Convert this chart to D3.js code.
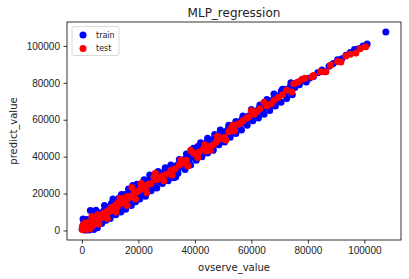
<!DOCTYPE html>
<html>
<head>
<meta charset="utf-8">
<script src="https://cdn.jsdelivr.net/npm/d3@7"></script>
<style>
  body { margin: 0; background: #fff; }
  svg { font-family: "DejaVu Sans", sans-serif; }
  .tick text { font-size: 10px; fill: #222; }
</style>
</head>
<body>
<svg id="chart" width="409" height="279"></svg>
<script>
var trainPoints = [
  [100,800],[300,2500],[400,6200],[600,1200],[700,4000],[900,300],[1000,2000],[1200,5200],[1400,800],[1500,3000],
  [1700,6000],[1900,1500],[2100,4200],[2300,700],[2500,2500],[2700,5500],[3000,10800],[3100,3500],[3300,1800],[3600,6500],
  [3800,4000],[4000,2500],[4300,7500],[4500,5000],[4800,3500],[5000,8500],[5300,6000],[5600,4500],[5900,9000],[6200,7000],
  [6500,5500],[6800,9500],[7100,8000],[7400,6500],[7700,10500],[8000,9000],[8300,7000],[8600,11500],[8900,10000],[9200,8500],
  [9500,12500],[9800,11000],[10100,9500],[10400,14500],[10700,12000],[11000,15500],[11300,10500],[11600,13500],[11900,16000],[12200,12500],
  [12500,11000],[12800,15000],[13100,17500],[13400,14000],[13700,12500],[14000,16500],[14300,18000],[14600,14500],[14900,17000],[15200,19500],
  [15500,16000],[15800,14500],[16100,18500],[16400,20000],[16700,17000],[17000,15500],[17300,19500],[17600,21500],[18000,24300],[18400,18000],
  [18800,20500],[19200,22500],[19600,19000],[20000,21500],[20600,23500],[21200,20000],[21800,22500],[22400,25000],[23000,22000],[23600,24000],
  [24200,27500],[24800,28500],[25400,24000],[26000,27000],[26600,29500],[27200,26500],[27800,30500],[28400,28500],[29000,31500],[29600,29000],
  [30200,32000],[30800,31500],[31400,30000],[32000,34500],[32600,33000],[33200,29000],[33800,35500],[34400,34000],[35000,36500],[35600,35000],
  [36200,38500],[36800,37500],[37400,40500],[38000,38000],[38600,41500],[39200,40000],[39800,43500],[40400,42000],[41000,45500],[41600,43000],
  [42200,46000],[42800,44500],[43400,42500],[44000,47500],[44600,45500],[45200,49000],[45800,47000],[46400,44500],[47000,50000],[47600,48500],
  [48200,51500],[48800,50000],[49400,52500],[50000,51000],[50600,53500],[51200,52000],[51800,55000],[52400,53500],[53000,56000],[53600,55000],
  [54200,57500],[54800,56000],[55400,58500],[56000,57000],[56600,60000],[57200,58500],[57800,61000],[58400,59500],[59000,62000],[59600,60500],
  [60200,63000],[61000,64500],[61800,62500],[62600,66000],[63400,64500],[64200,68000],[65000,66500],[65800,69500],[66600,67000],[67400,70500],
  [68200,72000],[69000,70500],[69800,73000],[70600,75500],[71400,74000],[72200,76500],[73000,75000],[73800,78000],[74600,79500],[75400,77500],
  [76200,80000],[77000,79000],[77800,81500],[78600,82000],[79400,80500],[80500,82500],[82000,83500],[83500,85500],[85000,87000],[86000,86000],
  [87500,89000],[89000,90500],[90500,92500],[92000,93000],[93500,95000],[95000,96500],[96500,98000],[98000,98500],[99500,100000],[101000,101000],
  [107600,107600],
  // the wider spread points at the edges of the band
  [1500,200],[2500,300],[4200,500],[5500,1500],[7000,3800],[8500,5500],[10000,6500],[12000,8500],[13800,10000],[15500,11500],
  [17500,13500],[19000,15500],[20500,17000],[22500,18500],[24500,21500],[26500,23000],[28500,25500],[30500,27000],[32500,28500],[34000,31000],
  [36500,33000],[38500,35500],[40500,38000],[42500,40000],[44500,42000],[46500,43500],[48500,46500],[50500,48000],[52500,50500],[54500,52500],
  [56500,54500],[58500,57000],[60500,59500],[62500,61000],[64500,63000],[66500,65000],[68500,67500],[70500,69500],[72500,71500],[74500,73500],
  [5000,11000],[8000,13500],[11000,17000],[14000,19500],[16500,22500],[19500,25000],[22000,27500],[24000,30000],[27000,32000],[29500,34000],
  [31500,35500],[34500,38500],[37000,41500],[39500,44500],[42000,47500],[44500,50000],[47000,52000],[49000,54500],[52000,57000],[54500,59000],
  [57000,62000],[60000,65500],[63000,68000],[65500,71000],[68000,74000],[71000,76500],[74000,80000]
];

var testPoints = [
  [100,500],[300,1500],[500,3000],[700,800],[900,2200],[1100,4000],[1300,1200],[1500,2800],[1700,500],[1900,3800],
  [2100,1800],[2400,4500],[2700,2500],[3000,1000],[3300,3500],[3600,5000],[4000,2800],[4400,6000],[4800,4500],[5200,7000],
  [5600,8500],[6000,6000],[6500,8000],[7000,7000],[7500,9000],[8000,8000],[8500,10000],[9000,9500],[9500,11000],[10000,10500],
  [10500,12500],[11000,11500],[11500,13000],[12000,14000],[12500,13000],[13000,15000],[13500,14500],[14000,15500],[14500,16500],[15000,15000],
  [15500,18000],[16000,17000],[16500,18500],[17000,18000],[17700,23300],[18500,20000],[19500,21000],[20500,22000],[21500,23500],[22500,22500],
  [23500,25000],[24500,25500],[25500,29000],[26500,27500],[27500,28500],[28500,29500],[30000,30500],[31500,32500],[33000,33500],[34500,35500],
  [36000,36500],[37000,38000],[38500,43500],[39500,42000],[40500,41500],[41500,42500],[43000,44000],[44000,43000],[45000,45500],[46500,46500],
  [47500,48000],[49000,49500],[50500,50500],[52000,53500],[53000,55500],[54000,54000],[55000,57500],[56000,58000],[57000,59500],[58000,60500],
  [59000,61500],[60000,65000],[61000,63000],[62000,64500],[63000,66000],[64500,69500],[65500,67500],[67000,68500],[68000,70500],[69500,72000],
  [71000,73500],[72500,76000],[74300,75100],[75000,79500],[76500,80500],[78000,82000],[79000,82500],[81400,83200],[82000,84000],[84500,86000],
  [86400,86000],[88000,89500],[90500,91500],[91700,91300],[93500,94500],[95000,95500],[97000,96200],[98500,98500],[100500,99500],
  [3500,7500],[6000,3500],[9000,6500],[12000,10000],[13500,17500],[16000,13500],[19000,17000],[21000,25500],[23000,20500],[26000,31000],
  [29000,27000],[32000,30000],[35000,38000],[37500,35000],[41000,39500],[43500,46500],[45500,43500],[48000,51000],[51000,49000],[53500,57000]
];

var xTicks = [0, 20000, 40000, 60000, 80000, 100000];
var yTicks = [0, 20000, 40000, 60000, 80000, 100000];
var seriesNames = ["train", "test"];
var seriesColors = ["#0000ff", "#ff0000"];

var svg = d3.select("#chart"),
    margin = {top: 22, right: 8, bottom: 39, left: 67},
    width  = +svg.attr("width")  - margin.left - margin.right,
    height = +svg.attr("height") - margin.top  - margin.bottom;

// matplotlib style 5% padding round the data
var allPts = trainPoints.concat(testPoints);
var xExt = d3.extent(allPts, function(d) { return d[0]; }),
    yExt = d3.extent(allPts, function(d) { return d[1]; });
var xPad = (xExt[1] - xExt[0]) * 0.05,
    yPad = (yExt[1] - yExt[0]) * 0.05;

var x = d3.scaleLinear().domain([xExt[0] - xPad, xExt[1] + xPad]).range([0, width]);
var y = d3.scaleLinear().domain([yExt[0] - yPad, yExt[1] + yPad]).range([height, 0]);

var g = svg.append("g")
  .attr("transform", "translate(" + margin.left + "," + margin.top + ")");

var xAxis = d3.axisBottom(x).tickValues(xTicks).tickFormat(d3.format("d")).tickSizeOuter(0).tickSize(3.5).tickPadding(3.5);
var yAxis = d3.axisLeft(y).tickValues(yTicks).tickFormat(d3.format("d")).tickSizeOuter(0).tickSize(3.5).tickPadding(3.5);

g.append("g")
  .attr("transform", "translate(0," + height + ")")
  .call(xAxis)
  .call(function(a) { a.select(".domain").remove(); });

g.append("g")
  .call(yAxis)
  .call(function(a) { a.select(".domain").remove(); });

g.selectAll(".tick line").attr("stroke", "#000").attr("stroke-width", 0.8);

// points: train first, test on top
[trainPoints, testPoints].forEach(function(pts, i) {
  g.append("g").selectAll("circle")
    .data(pts)
    .enter().append("circle")
      .attr("cx", function(d) { return x(d[0]); })
      .attr("cy", function(d) { return y(d[1]); })
      .attr("r", 3.5)
      .attr("fill", seriesColors[i]);
});

// frame
g.append("rect")
  .attr("width", width)
  .attr("height", height)
  .attr("fill", "none")
  .attr("stroke", "#000")
  .attr("stroke-width", 0.8);

// legend
var legend = g.append("g").attr("transform", "translate(5,4.5)");
legend.append("rect")
  .attr("width", 47)
  .attr("height", 29)
  .attr("rx", 2)
  .attr("fill", "#fff")
  .attr("fill-opacity", 0.8)
  .attr("stroke", "#d0d0d0")
  .attr("stroke-width", 0.8);

seriesNames.forEach(function(name, i) {
  legend.append("circle")
    .attr("cx", 11)
    .attr("cy", 8.5 + i * 13.5)
    .attr("r", 3.5)
    .attr("fill", seriesColors[i]);
  legend.append("text")
    .attr("x", 24)
    .attr("y", 8.5 + i * 13.5)
    .attr("dy", "0.35em")
    .attr("font-size", 8)
    .attr("fill", "#222")
    .text(name);
});

// title and axis labels
svg.append("text")
  .attr("x", margin.left + width / 2)
  .attr("y", 17)
  .attr("text-anchor", "middle")
  .attr("font-size", 12)
  .attr("fill", "#222")
  .text("MLP_regression");

svg.append("text")
  .attr("x", margin.left + width / 2)
  .attr("y", 271)
  .attr("text-anchor", "middle")
  .attr("font-size", 10)
  .attr("fill", "#222")
  .text("ovserve_value");

svg.append("text")
  .attr("transform", "translate(17," + (margin.top + height / 2) + ") rotate(-90)")
  .attr("text-anchor", "middle")
  .attr("font-size", 10)
  .attr("fill", "#222")
  .text("predict_value");
</script>
</body>
</html>
